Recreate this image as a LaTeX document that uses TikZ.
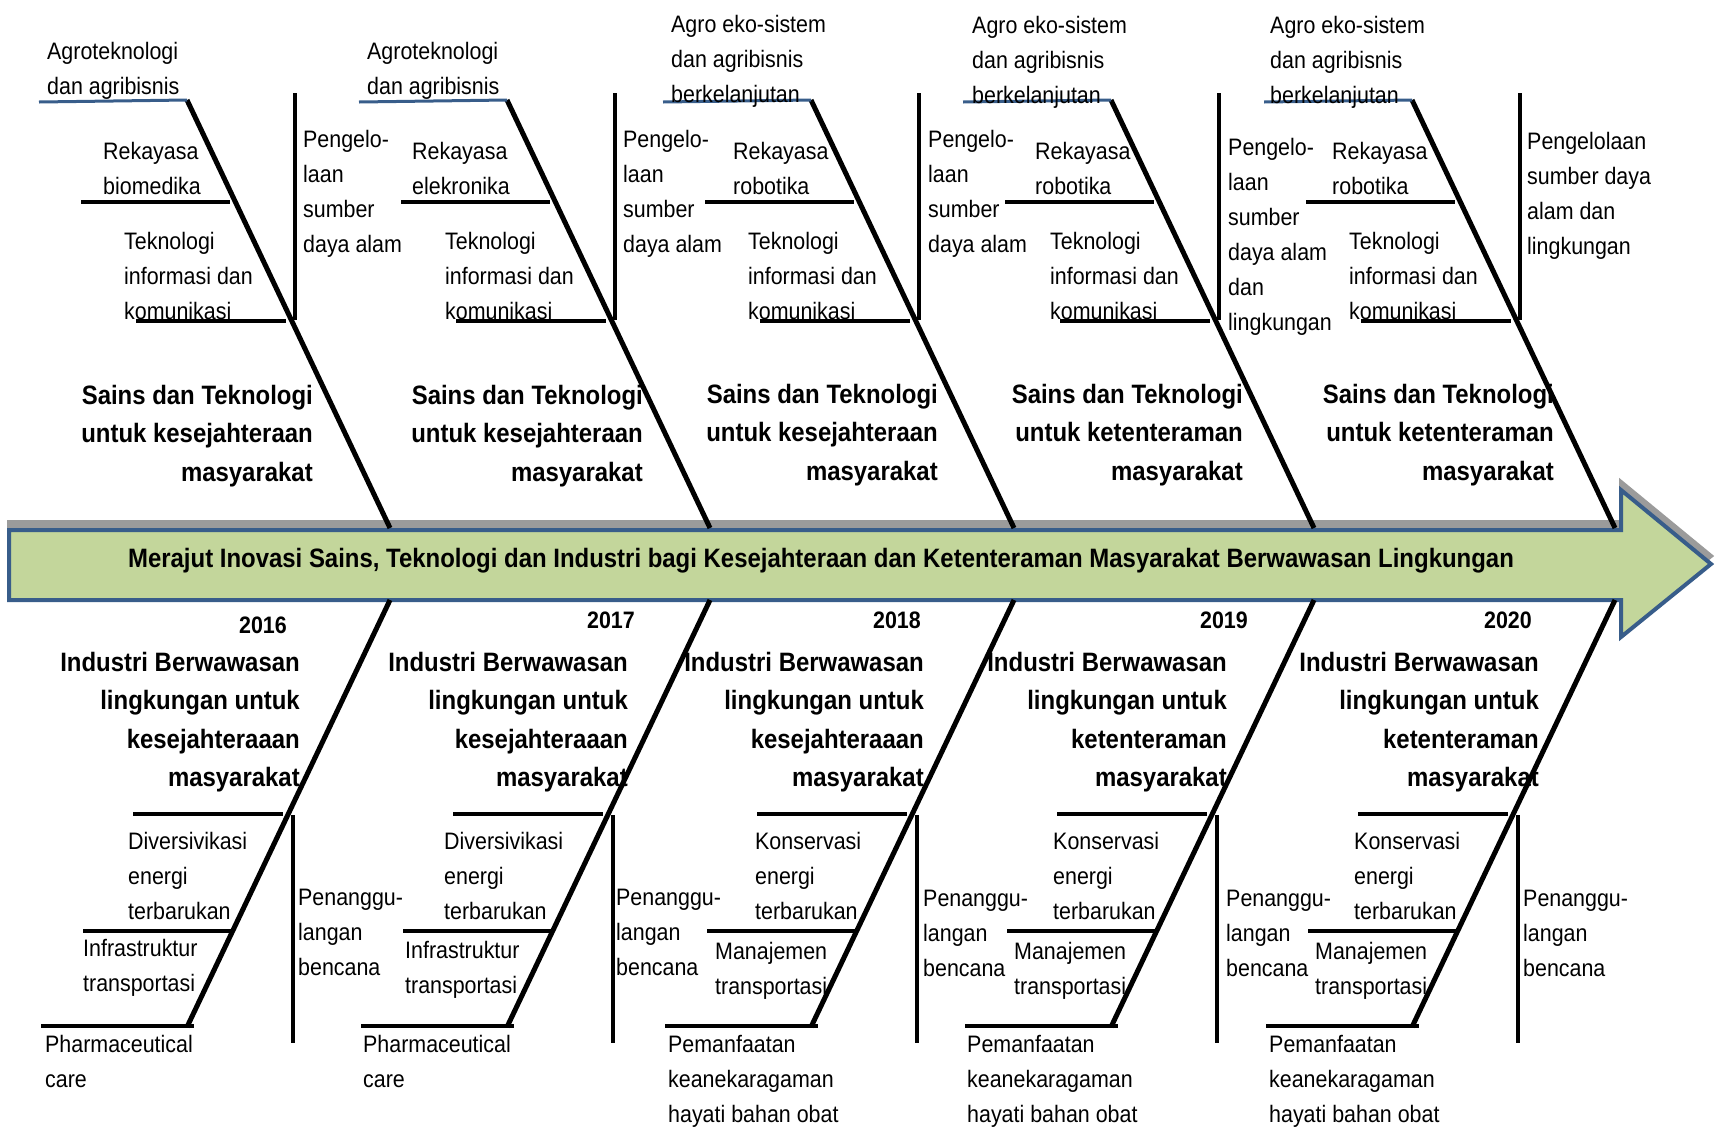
\documentclass[tikz,border=0pt]{standalone}
\usepackage{fontspec}
\setmainfont{Liberation Sans}[FakeStretch=0.9]
\usepackage{tikz}
\definecolor{arrowfill}{HTML}{C3D69B}
\definecolor{arrowline}{HTML}{385D8A}
\definecolor{arrowshade}{HTML}{9B9B9B}

\begin{document}
\begin{tikzpicture}[
    x=1pt, y=-1pt,
    bone/.style={line width=5pt},
    rib/.style={line width=4pt},
    pillar/.style={line width=3.5pt},
    agrorib/.style={line width=3pt, draw=arrowline},
    itemlbl/.style={inner sep=0pt, anchor=north west, align=left, font=\fontsize{23.8}{35}\selectfont},
    themelbl/.style={inner sep=0pt, anchor=north east, align=right, font=\fontsize{26.6}{38.5}\selectfont\bfseries},
    yearlbl/.style={inner sep=0pt, anchor=north east, font=\fontsize{23.8}{26}\selectfont\bfseries}
]
\useasboundingbox (0,0) rectangle (1715,1128);

% Spine arrow
\draw[fill=arrowshade, draw=arrowshade, line width=4pt] (9,522) -- (1621,522) -- (1621,482) -- (1711,556) -- (1621,629) -- (1621,592) -- (9,592) -- cycle;
\draw[fill=arrowfill, draw=arrowline, line width=4pt] (9,530) -- (1621,530) -- (1621,490) -- (1711,564) -- (1621,637) -- (1621,600) -- (9,600) -- cycle;
\node[font=\fontsize{26.6}{28}\selectfont\bfseries] (goal) at (821,561) {Merajut Inovasi Sains, Teknologi dan Industri bagi Kesejahteraan dan Ketenteraman Masyarakat Berwawasan Lingkungan};

% Bones
\coordinate (top1) at (187,100); \coordinate (up1) at (390,528);
\coordinate (dn1) at (390,600);  \coordinate (bot1) at (187,1027);
\coordinate (top2) at (507,100); \coordinate (up2) at (710,528);
\coordinate (dn2) at (710,600);  \coordinate (bot2) at (507,1027);
\coordinate (top3) at (811,100); \coordinate (up3) at (1014,528);
\coordinate (dn3) at (1014,600); \coordinate (bot3) at (811,1027);
\coordinate (top4) at (1111,100); \coordinate (up4) at (1314,528);
\coordinate (dn4) at (1314,600); \coordinate (bot4) at (1111,1027);
\coordinate (top5) at (1412,100); \coordinate (up5) at (1615,528);
\coordinate (dn5) at (1615,600); \coordinate (bot5) at (1412,1027);
\draw[bone] (top1) -- (up1); \draw[bone] (dn1) -- (bot1);
\draw[bone] (top2) -- (up2); \draw[bone] (dn2) -- (bot2);
\draw[bone] (top3) -- (up3); \draw[bone] (dn3) -- (bot3);
\draw[bone] (top4) -- (up4); \draw[bone] (dn4) -- (bot4);
\draw[bone] (top5) -- (up5); \draw[bone] (dn5) -- (bot5);

% Column 2016
\draw[agrorib] (39,102) -- (top1);
\draw[rib] (81,202) -- (230,202);
\draw[rib] (136,321) -- (286,321);
\draw[pillar] (295,93) -- (295,320);
\draw[rib] (133,814) -- (283,814);
\draw[rib] (83,931) -- (233,931);
\draw[rib] (41,1026) -- (194,1026);
\draw[pillar] (293,815) -- (293,1043);
\node[itemlbl] (agro1) at (47,42) {Agroteknologi\\dan agribisnis};
\node[itemlbl] (rek1) at (103,142) {Rekayasa\\biomedika};
\node[itemlbl] (tik1) at (124,232) {Teknologi\\informasi dan\\komunikasi};
\node[itemlbl] (sda1) at (303,130) {Pengelo-\\laan\\sumber\\daya alam};
\node[themelbl] (sains1) at (313,385) {Sains dan Teknologi\\untuk kesejahteraan\\masyarakat};
\node[yearlbl] (yr1) at (287,617) {2016};
\node[themelbl] (ind1) at (300,652) {Industri Berwawasan\\lingkungan untuk\\kesejahteraaan\\masyarakat};
\node[itemlbl] (ene1) at (128,832) {Diversivikasi\\energi\\terbarukan};
\node[itemlbl] (trans1) at (83,939) {Infrastruktur\\transportasi};
\node[itemlbl] (obat1) at (45,1035) {Pharmaceutical\\care};
\node[itemlbl] (benc1) at (298,889) {Penanggu-\\langan\\bencana};

% Column 2017
\draw[agrorib] (359,102) -- (top2);
\draw[rib] (401,202) -- (550,202);
\draw[rib] (456,321) -- (606,321);
\draw[pillar] (615,93) -- (615,320);
\draw[rib] (453,814) -- (603,814);
\draw[rib] (403,931) -- (553,931);
\draw[rib] (361,1026) -- (514,1026);
\draw[pillar] (613,815) -- (613,1043);
\node[itemlbl] (agro2) at (367,42) {Agroteknologi\\dan agribisnis};
\node[itemlbl] (rek2) at (412,142) {Rekayasa\\elekronika};
\node[itemlbl] (tik2) at (445,232) {Teknologi\\informasi dan\\komunikasi};
\node[itemlbl] (sda2) at (623,130) {Pengelo-\\laan\\sumber\\daya alam};
\node[themelbl] (sains2) at (643,385) {Sains dan Teknologi\\untuk kesejahteraan\\masyarakat};
\node[yearlbl] (yr2) at (635,612) {2017};
\node[themelbl] (ind2) at (628,652) {Industri Berwawasan\\lingkungan untuk\\kesejahteraaan\\masyarakat};
\node[itemlbl] (ene2) at (444,832) {Diversivikasi\\energi\\terbarukan};
\node[itemlbl] (trans2) at (405,941) {Infrastruktur\\transportasi};
\node[itemlbl] (obat2) at (363,1035) {Pharmaceutical\\care};
\node[itemlbl] (benc2) at (616,889) {Penanggu-\\langan\\bencana};

% Column 2018
\draw[agrorib] (663,102) -- (top3);
\draw[rib] (705,202) -- (854,202);
\draw[rib] (760,321) -- (910,321);
\draw[pillar] (919,93) -- (919,320);
\draw[rib] (757,814) -- (907,814);
\draw[rib] (707,931) -- (857,931);
\draw[rib] (665,1026) -- (818,1026);
\draw[pillar] (917,815) -- (917,1043);
\node[itemlbl] (agro3) at (671,15) {Agro eko-sistem\\dan agribisnis\\berkelanjutan};
\node[itemlbl] (rek3) at (733,142) {Rekayasa\\robotika};
\node[itemlbl] (tik3) at (748,232) {Teknologi\\informasi dan\\komunikasi};
\node[itemlbl] (sda3) at (928,130) {Pengelo-\\laan\\sumber\\daya alam};
\node[themelbl] (sains3) at (938,384) {Sains dan Teknologi\\untuk kesejahteraan\\masyarakat};
\node[yearlbl] (yr3) at (921,612) {2018};
\node[themelbl] (ind3) at (924,652) {Industri Berwawasan\\lingkungan untuk\\kesejahteraaan\\masyarakat};
\node[itemlbl] (ene3) at (755,832) {Konservasi\\energi\\terbarukan};
\node[itemlbl] (trans3) at (715,942) {Manajemen\\transportasi};
\node[itemlbl] (obat3) at (668,1035) {Pemanfaatan\\keanekaragaman\\hayati bahan obat};
\node[itemlbl] (benc3) at (923,890) {Penanggu-\\langan\\bencana};

% Column 2019
\draw[agrorib] (963,102) -- (top4);
\draw[rib] (1005,202) -- (1154,202);
\draw[rib] (1060,321) -- (1210,321);
\draw[pillar] (1219,93) -- (1219,320);
\draw[rib] (1057,814) -- (1207,814);
\draw[rib] (1007,931) -- (1157,931);
\draw[rib] (965,1026) -- (1118,1026);
\draw[pillar] (1217,815) -- (1217,1043);
\node[itemlbl] (agro4) at (972,16) {Agro eko-sistem\\dan agribisnis\\berkelanjutan};
\node[itemlbl] (rek4) at (1035,142) {Rekayasa\\robotika};
\node[itemlbl] (tik4) at (1050,232) {Teknologi\\informasi dan\\komunikasi};
\node[itemlbl] (sda4) at (1228,138) {Pengelo-\\laan\\sumber\\daya alam\\dan\\lingkungan};
\node[themelbl] (sains4) at (1243,384) {Sains dan Teknologi\\untuk ketenteraman\\masyarakat};
\node[yearlbl] (yr4) at (1248,612) {2019};
\node[themelbl] (ind4) at (1227,652) {Industri Berwawasan\\lingkungan untuk\\ketenteraman\\masyarakat};
\node[itemlbl] (ene4) at (1053,832) {Konservasi\\energi\\terbarukan};
\node[itemlbl] (trans4) at (1014,942) {Manajemen\\transportasi};
\node[itemlbl] (obat4) at (967,1035) {Pemanfaatan\\keanekaragaman\\hayati bahan obat};
\node[itemlbl] (benc4) at (1226,890) {Penanggu-\\langan\\bencana};

% Column 2020
\draw[agrorib] (1264,102) -- (top5);
\draw[rib] (1306,202) -- (1455,202);
\draw[rib] (1361,321) -- (1511,321);
\draw[pillar] (1520,93) -- (1520,320);
\draw[rib] (1358,814) -- (1508,814);
\draw[rib] (1308,931) -- (1458,931);
\draw[rib] (1266,1026) -- (1419,1026);
\draw[pillar] (1518,815) -- (1518,1043);
\node[itemlbl] (agro5) at (1270,16) {Agro eko-sistem\\dan agribisnis\\berkelanjutan};
\node[itemlbl] (rek5) at (1332,142) {Rekayasa\\robotika};
\node[itemlbl] (tik5) at (1349,232) {Teknologi\\informasi dan\\komunikasi};
\node[itemlbl] (sda5) at (1527,132) {Pengelolaan\\sumber daya\\alam dan\\lingkungan};
\node[themelbl] (sains5) at (1554,384) {Sains dan Teknologi\\untuk ketenteraman\\masyarakat};
\node[yearlbl] (yr5) at (1532,612) {2020};
\node[themelbl] (ind5) at (1539,652) {Industri Berwawasan\\lingkungan untuk\\ketenteraman\\masyarakat};
\node[itemlbl] (ene5) at (1354,832) {Konservasi\\energi\\terbarukan};
\node[itemlbl] (trans5) at (1315,942) {Manajemen\\transportasi};
\node[itemlbl] (obat5) at (1269,1035) {Pemanfaatan\\keanekaragaman\\hayati bahan obat};
\node[itemlbl] (benc5) at (1523,890) {Penanggu-\\langan\\bencana};
\end{tikzpicture}
\end{document}
